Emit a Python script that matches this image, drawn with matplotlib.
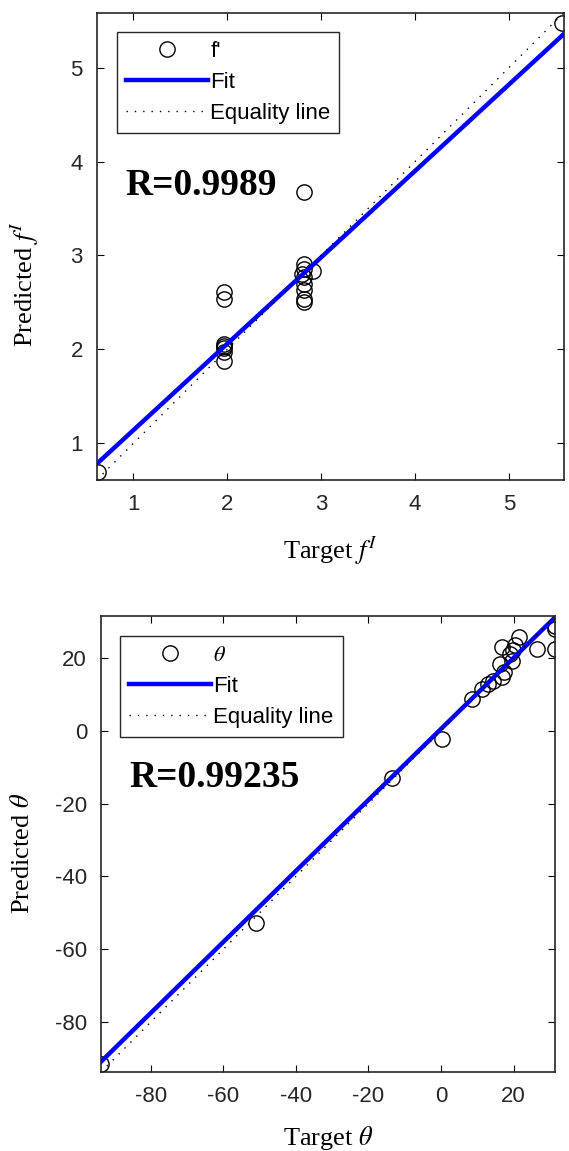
import numpy as np
import matplotlib
matplotlib.use('Agg')
import matplotlib.pyplot as plt

plt.rcParams['mathtext.fontset'] = 'stix'
plt.rcParams['axes.unicode_minus'] = False

# 上段: f^I の予測値と目標値
f_target = [0.62, 1.97, 1.97, 1.97, 1.97, 1.97, 1.97, 1.97,
            2.82, 2.82, 2.82, 2.82, 2.82, 2.82, 2.82, 2.82, 2.91, 2.80, 5.56]
f_pred = [0.69, 2.61, 2.54, 2.06, 2.01, 1.97, 1.88, 2.04,
          3.68, 2.91, 2.86, 2.77, 2.70, 2.63, 2.54, 2.50, 2.84, 2.80, 5.47]
f_fit = [0.92, 0.22]  # slope, intercept
f_lim = [0.61, 5.585]
f_ticks = [1, 2, 3, 4, 5]
f_R = 'R=0.9989'

# 下段: θ
th_target = [-93.7, -51.0, -13.5, 0.3, 8.5, 11.2, 13.0, 14.4, 16.7, 17.2, 16.3,
             16.9, 19.0, 19.9, 19.5, 21.5, 20.4, 26.4, 31.4, 31.4, 31.4]
th_pred = [-91.5, -52.7, -13.1, -2.2, 8.7, 11.5, 12.8, 13.7, 14.6, 16.0, 18.3,
           22.9, 21.0, 22.0, 19.2, 25.6, 23.4, 22.5, 28.8, 27.9, 22.4]
th_fit = [0.975, 0.5]
th_lim = [-93.7, 31.4]
th_ticks = [-80, -60, -40, -20, 0, 20]
th_R = 'R=0.99235'

tick_col = '#262626'

def panel(ax, x, y, fit, lim, ticks, R, R_pos, sym, leg_label, ylab_pos, xlab_y, leg_anchor):
    ax.plot(x, y, 'o', mfc='none', mec='k', ms=11, mew=1.0, label=leg_label)
    xx = np.array(lim)
    ax.plot(xx, fit[0]*xx + fit[1], color='#0000ff', lw=3.2, label='Fit')
    ax.plot(xx, xx, color='k', ls=(0, (1, 5)), lw=1.0, label='Equality line')
    ax.set_xlim(lim)
    ax.set_ylim(lim)
    ax.set_xticks(ticks)
    ax.set_yticks(ticks)
    ax.tick_params(direction='in', top=True, right=True, length=5, width=0.8,
                   labelsize=16, labelcolor=tick_col, pad=10)
    for t in ax.get_xticklabels() + ax.get_yticklabels():
        t.set_fontfamily('Liberation Sans')
    for s in ax.spines.values():
        s.set_color('#262626')
        s.set_linewidth(1.2)
    ax.set_xlabel('Target ' + sym, fontsize=19, fontfamily='Liberation Serif', va='center')
    ax.set_ylabel('Predicted ' + sym, fontsize=19, fontfamily='Liberation Serif', va='center')
    ax.yaxis.set_label_coords(*ylab_pos)
    ax.xaxis.set_label_coords(0.5, xlab_y)
    ax.text(R_pos[0], R_pos[1], R, fontsize=27, fontweight='bold',
            fontfamily='Liberation Serif', va='center', ha='left')
    leg = ax.legend(loc='upper left', bbox_to_anchor=leg_anchor, borderaxespad=0,
                    fancybox=False, framealpha=1, edgecolor='#262626',
                    prop={'family': 'Liberation Sans', 'size': 16},
                    handlelength=3.7, handletextpad=0.1, numpoints=1,
                    labelspacing=0.45, borderpad=0.4)
    leg.get_frame().set_linewidth(1.0)

fig = plt.figure(figsize=(5.69, 11.51), dpi=100)
ax1 = fig.add_axes([0.170, 0.583, 0.821, 0.406])
ax2 = fig.add_axes([0.1775, 0.0686, 0.798, 0.396])

panel(ax1, f_target, f_pred, f_fit, f_lim, f_ticks, f_R, (0.91, 3.74),
      r'$f^{I}$', "f'", (-0.154, 0.418), -0.152, (0.043, 0.959))
panel(ax2, th_target, th_pred, th_fit, th_lim, th_ticks, th_R, (-86, -12.8),
      r'$\theta$', r'$\theta$', (-0.172, 0.479), -0.145, (0.042, 0.956))

fig.savefig('out.png', dpi=100)
